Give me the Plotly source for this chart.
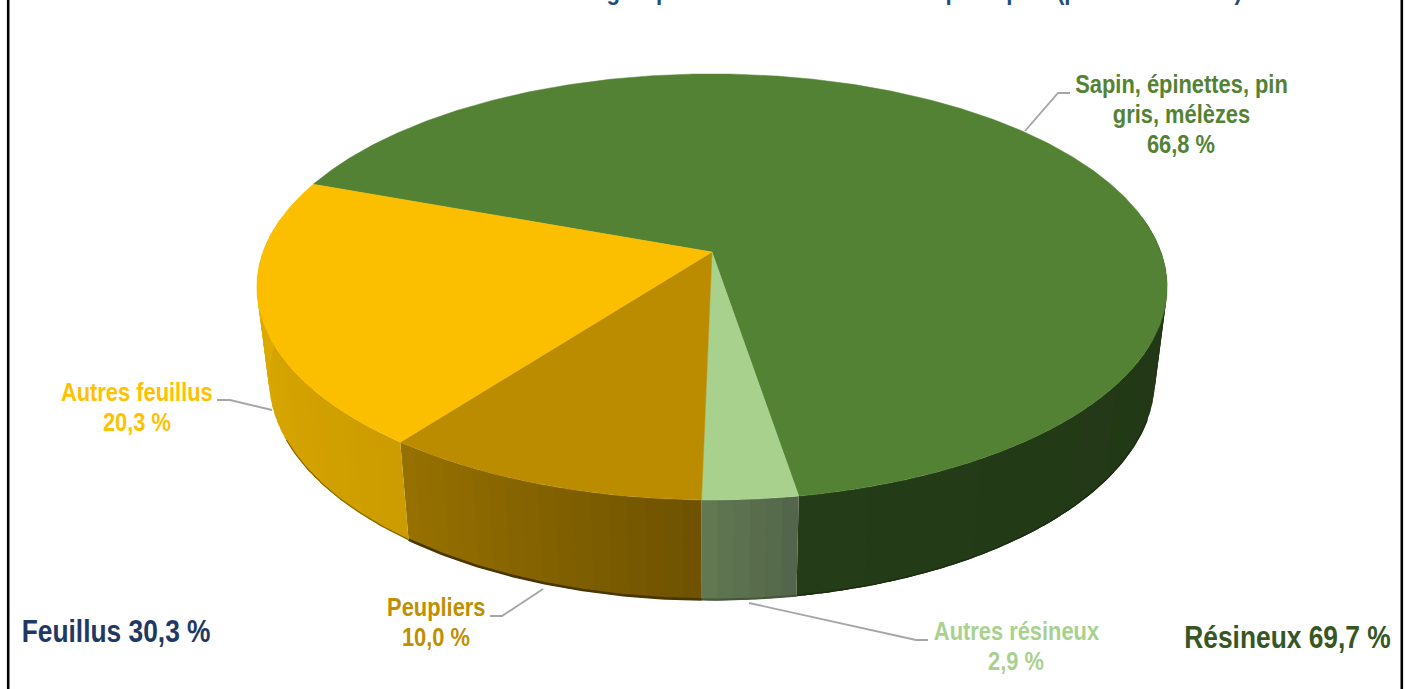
import numpy as np
import plotly.graph_objects as go

# --- data -------------------------------------------------------------
categories = ["Sapin, épinettes, pin gris, mélèzes", "Autres résineux", "Peupliers", "Autres feuillus"]
values = [66.8, 2.9, 10.0, 20.3]
groups = ["Feuillus", "Résineux"]
group_values = [30.3, 69.7]
title_text = "Volume selon le groupe d'essences et l'essence principale (pour l'ensemble)"

# --- styles -----------------------------------------------------------
top_colors = ["#548235", "#A9D18E", "#BB8C00", "#FBBF00"]
label_colors = ["#548235", "#A9D18E", "#BF8F00", "#FFC000"]
side_left = [(36, 60, 24), (98, 122, 82), (152, 114, 0), (226, 174, 0)]
side_right = [(33, 54, 21), (82, 100, 74), (110, 82, 0), (204, 156, 0)]
edge_colors = ["#1C2E12", "#46573C", "#4A3600", "#8A6A00"]
edge_widths = [1.5, 2.2, 2.6, 1.2]
first_angle = 290.2
CX, K = 712.0, 0.164
TOP = dict(R=449.0, y0=252.0, b=207.3)
BOT = dict(R=437.0, y0=343.0, b=215.0)
W, H = 1405, 689
FONT = "Liberation Sans, Arial, sans-serif"


def project(phi_deg, plane):
    p = np.radians(phi_deg)
    X, Y = np.sin(p), -np.cos(p)
    w = 1 - K * Y
    return CX + plane["R"] * X / w, plane["y0"] + plane["b"] * Y / w


def fmt(v):
    return f"{v:.1f}".replace(".", ",") + " %"


total = sum(values)
spans = []
a = first_angle
for v in values:
    spans.append((a, a + 360 * v / total))
    a += 360 * v / total

fig = go.Figure()


def add_poly(x, y, color, lw=0.0):
    fig.add_trace(go.Scatter(x=x, y=y, mode="lines", fill="toself", fillcolor=color,
                             line=dict(color=color, width=lw), hoverinfo="skip", showlegend=False))


# sides: visible front arc only (angles around 180 deg)
FRONT_MIN, FRONT_MAX = 80.0, 280.0
EDGE_MIN, EDGE_MAX = 110.0, 245.0
STEP = 2.0
for i, (s, e) in enumerate(spans):
    for lo, hi in [(s, e), (s - 360, e - 360), (s + 360, e + 360)]:
        lo2, hi2 = max(lo, FRONT_MIN), min(hi, FRONT_MAX)
        if hi2 <= lo2:
            continue
        n = max(1, int(np.ceil((hi2 - lo2) / STEP)))
        edges = np.linspace(lo2, hi2, n + 1)
        for j in range(n):
            a0 = edges[j]
            a1 = min(edges[j + 1] + STEP * 0.6, hi2)
            mid = np.linspace(a0, a1, 4)
            xt, yt = project(mid, TOP)
            xb, yb = project(mid, BOT)
            t = 1 - (j + 0.5) / n
            c = [side_left[i][k] + (side_right[i][k] - side_left[i][k]) * t for k in range(3)]
            col = f"rgb({c[0]:.0f},{c[1]:.0f},{c[2]:.0f})"
            add_poly(np.r_[xt, xb[::-1], xt[0]], np.r_[yt, yb[::-1], yt[0]], col)
        lo3, hi3 = max(lo2, EDGE_MIN), min(hi2, EDGE_MAX)
        if hi3 > lo3:
            arc = np.linspace(lo3, hi3, int(hi3 - lo3) * 2 + 2)
            bx, by = project(arc, BOT)
            fig.add_trace(go.Scatter(x=bx, y=by - 0.6, mode="lines",
                                     line=dict(color=edge_colors[i], width=edge_widths[i]),
                                     hoverinfo="skip", showlegend=False))

# top face
for i, (s, e) in enumerate(spans):
    arc = np.linspace(s, e, int((e - s) * 2) + 2)
    x, y = project(arc, TOP)
    add_poly(np.r_[CX, x, CX], np.r_[TOP["y0"], y, TOP["y0"]], top_colors[i], lw=0.5)

# labels
annotations = []


def text(x, y, s, color, size, **kw):
    annotations.append(dict(x=x, y=y, xref="x", yref="y", text=f"<b>{s}</b>", showarrow=False,
                            font=dict(family=FONT, size=size, color=color), **kw))


LBL = 25
text(1181, 84, "Sapin, épinettes, pin", label_colors[0], LBL)
text(1181, 114, "gris, mélèzes", label_colors[0], LBL)
text(1181, 144, fmt(values[0]), label_colors[0], LBL)
text(1016, 631, categories[1], label_colors[1], LBL)
text(1016, 661, fmt(values[1]), label_colors[1], LBL)
text(436, 607, categories[2], label_colors[2], LBL)
text(436, 637, fmt(values[2]), label_colors[2], LBL)
text(137, 392, categories[3], label_colors[3], LBL)
text(137, 422, fmt(values[3]), label_colors[3], LBL)
text(116, 631, f"{groups[0]} {fmt(group_values[0])}", "#1F3864", 31)
text(1287, 637, f"{groups[1]} {fmt(group_values[1])}", "#375623", 31)
text(837, 6, title_text, "#1F4E79", 25.5, yanchor="bottom", borderpad=0)

leader = dict(type="path", xref="x", yref="y", line=dict(color="#A6A6A6", width=1.9))
shapes = [
    dict(leader, path="M1070,93 L1058,93 L1025,131"),
    dict(leader, path="M217,400 L230,400 L272,410"),
    dict(leader, path="M490,616 L502,616 L543,589"),
    dict(leader, path="M749,603 L916,640 L928,640"),
    dict(type="line", xref="x", yref="y", x0=8.2, x1=8.2, y0=0, y1=H, line=dict(color="#000000", width=2.6)),
    dict(type="line", xref="x", yref="y", x0=1401.8, x1=1401.8, y0=0, y1=H, line=dict(color="#000000", width=2.6)),
]

fig.update_layout(
    width=W, height=H, margin=dict(l=0, r=0, t=0, b=0),
    paper_bgcolor="white", plot_bgcolor="white", showlegend=False,
    xaxis=dict(range=[0, W], visible=False, fixedrange=True),
    yaxis=dict(range=[H, 0], visible=False, fixedrange=True),
    annotations=annotations, shapes=shapes,
)
# page without its default margin; text condensed horizontally to a narrow face
post = """
document.body.style.margin='0';
document.querySelectorAll('text.annotation-text').forEach(function(t){
  var b=t.getBBox(), c=b.x+b.width/2, s=parseFloat(t.style.fontSize)>28?0.85:0.875;
  t.setAttribute('transform','translate('+c+',0) scale('+s+',1) translate('+(-c)+',0)');
});
"""
fig.write_html("out.html", config=dict(displayModeBar=False), post_script=post)
